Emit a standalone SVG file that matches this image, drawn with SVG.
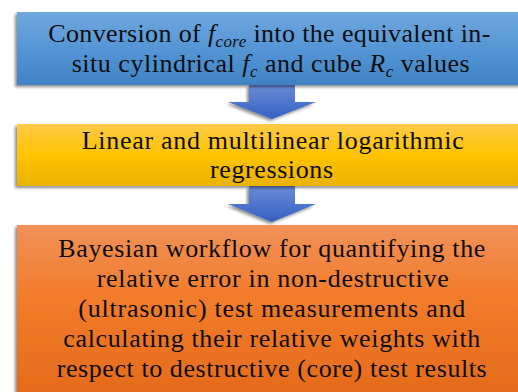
<svg xmlns="http://www.w3.org/2000/svg" width="518" height="392" viewBox="0 0 518 392">
<style>
text{font-size:26px;fill:#0d0d0d;}
.i{font-style:italic;}
.s{font-size:17px;font-style:italic;}
</style>
<defs>
<linearGradient id="gBlue" x1="0" y1="0" x2="0" y2="1">
<stop offset="0" stop-color="#70a8df"/><stop offset="0.5" stop-color="#5596d6"/><stop offset="1" stop-color="#3f82c3"/>
</linearGradient>
<linearGradient id="gYel" x1="0" y1="0" x2="0" y2="1">
<stop offset="0" stop-color="#ffcb47"/><stop offset="0.5" stop-color="#ffc300"/><stop offset="1" stop-color="#e9b300"/>
</linearGradient>
<linearGradient id="gOr" x1="0" y1="0" x2="0" y2="1">
<stop offset="0" stop-color="#f19159"/><stop offset="0.4" stop-color="#f27c2b"/><stop offset="1" stop-color="#e3691a"/>
</linearGradient>
<linearGradient id="gArr" x1="0" y1="0" x2="0" y2="1">
<stop offset="0" stop-color="#6a8bd6"/><stop offset="1" stop-color="#3460c2"/>
</linearGradient>
<filter id="sh" x="-5%" y="-10%" width="110%" height="130%">
<feDropShadow dx="-2" dy="2" stdDeviation="1.5" flood-color="#000" flood-opacity="0.45"/>
</filter>
</defs>
<rect width="518" height="392" fill="#fff"/>
<g id="connectors">
<polygon points="249,85 295,85 295,102 316,102 272,119 228,102 249,102" fill="url(#gArr)" filter="url(#sh)"/>
<polygon points="249,186 295,186 295,204 316,204 272,222 228,204 249,204" fill="url(#gArr)" filter="url(#sh)"/>
</g>
<g id="node1" font-family="Liberation Serif">
<rect x="17" y="12" width="520" height="73" fill="url(#gBlue)" filter="url(#sh)"/>
<text x="48.3" y="42" textLength="442" lengthAdjust="spacing">Conversion of <tspan class="i">f</tspan><tspan class="s" dy="5">core</tspan><tspan dy="-5"> into the equivalent in-</tspan></text>
<text x="71.7" y="72" textLength="398" lengthAdjust="spacing">situ cylindrical <tspan class="i">f</tspan><tspan class="s" dy="5">c</tspan><tspan dy="-5"> and cube </tspan><tspan class="i">R</tspan><tspan class="s" dy="5">c</tspan><tspan dy="-5"> values</tspan></text>
</g>
<g id="node2" font-family="Liberation Serif">
<rect x="17" y="124" width="520" height="62" fill="url(#gYel)" filter="url(#sh)"/>
<text x="81.7" y="149" textLength="382" lengthAdjust="spacing">Linear and multilinear logarithmic</text>
<text x="210" y="178" textLength="123" lengthAdjust="spacing">regressions</text>
</g>
<g id="node3" font-family="Liberation Serif">
<rect x="17" y="225" width="520" height="180" fill="url(#gOr)" filter="url(#sh)"/>
<text x="58.3" y="257" textLength="427" lengthAdjust="spacing">Bayesian workflow for quantifying the</text>
<text x="96.7" y="287" textLength="352" lengthAdjust="spacing">relative error in non-destructive</text>
<text x="78.3" y="317" textLength="387" lengthAdjust="spacing">(ultrasonic) test measurements and</text>
<text x="63.3" y="347" textLength="417" lengthAdjust="spacing">calculating their relative weights with</text>
<text x="56.7" y="377" textLength="430" lengthAdjust="spacing">respect to destructive (core) test results</text>
</g>
</svg>
